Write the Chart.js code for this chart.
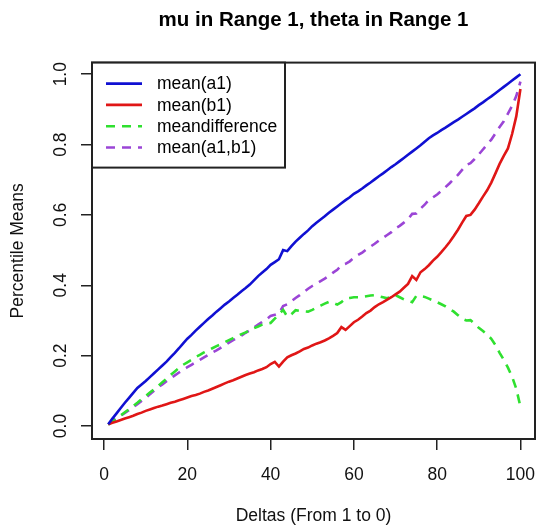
<!DOCTYPE html>
<html>
<head>
<meta charset="utf-8">
<script src="https://cdn.jsdelivr.net/npm/chart.js@4"></script>
<style>
  body { margin: 0; background: #fff; }
  #wrap { width: 536px; height: 527px; }
</style>
</head>
<body>
<div id="wrap"><canvas id="chart" width="536" height="527"></canvas></div>
<script>
// deltas 1..100
const deltas = Array.from({length: 100}, (_, i) => i + 1)
const xTicks = [0, 20, 40, 60, 80, 100]
const yTicks = [0, 0.2, 0.4, 0.6, 0.8, 1.0]

const meanA1 = [
  .005, .021, .036, .051, .066, .080, .094, .108, .118, .128,
  .139, .150, .161, .172, .183, .196, .208, .221, .235, .248,
  .259, .271, .282, .293, .304, .314, .325, .335, .345, .354,
  .364, .373, .383, .392, .402, .414, .426, .436, .446, .458,
  .466, .474, .500, .497, .511, .524, .535, .546, .556, .568,
  .578, .587, .596, .606, .615, .624, .633, .642, .650, .660,
  .667, .675, .684, .692, .701, .710, .718, .727, .736, .744,
  .753, .762, .771, .780, .789, .798, .808, .818, .826, .833,
  .841, .848, .856, .864, .871, .879, .887, .895, .903, .912,
  .920, .929, .937, .946, .955, .964, .973, .982, .991, 1.0
]
const meanB1 = [
  .005, .009, .013, .017, .021, .025, .029, .034, .038, .043,
  .047, .051, .055, .058, .062, .066, .069, .073, .077, .081,
  .085, .088, .092, .097, .101, .106, .111, .116, .121, .126,
  .130, .135, .140, .145, .149, .153, .158, .162, .167, .176,
  .182, .169, .183, .195, .201, .206, .212, .219, .223, .229,
  .234, .238, .243, .249, .256, .264, .281, .273, .284, .295,
  .302, .311, .321, .328, .338, .346, .352, .359, .366, .374,
  .382, .393, .404, .426, .415, .437, .446, .457, .470, .481,
  .494, .508, .523, .540, .558, .578, .597, .600, .615, .633,
  .652, .670, .692, .718, .745, .768, .789, .830, .880, .958
]
const meanDiff = [
  .004, .012, .021, .030, .039, .048, .057, .066, .076, .085,
  .095, .104, .114, .124, .134, .145, .155, .165, .174, .181,
  .188, .196, .202, .209, .215, .221, .227, .232, .238, .244,
  .250, .256, .261, .266, .272, .278, .283, .288, .291, .293,
  .305, .318, .330, .311, .318, .329, .327, .326, .325, .330,
  .336, .342, .348, .353, .350, .345, .352, .362, .364, .366,
  .366, .367, .369, .371, .372, .369, .366, .363, .368, .372,
  .366, .360, .356, .352, .370, .369, .367, .362, .357, .352,
  .346, .340, .332, .325, .315, .305, .300, .301, .290, .279,
  .270, .260, .248, .230, .208, .188, .166, .140, .106, .055
]
const meanA1B1 = [
  .005, .014, .022, .029, .037, .045, .054, .062, .071, .080,
  .090, .100, .110, .118, .127, .136, .144, .152, .160, .167,
  .174, .181, .188, .195, .202, .209, .215, .222, .229, .237,
  .244, .250, .257, .265, .272, .280, .288, .296, .303, .313,
  .316, .320, .341, .346, .355, .364, .372, .381, .390, .398,
  .405, .412, .419, .427, .436, .444, .457, .461, .468, .478,
  .486, .493, .502, .510, .518, .527, .535, .543, .551, .562,
  .569, .578, .588, .603, .604, .618, .629, .643, .650, .658,
  .668, .679, .690, .702, .714, .728, .742, .747, .759, .772,
  .786, .800, .814, .832, .850, .866, .888, .910, .938, .979
]

const seriesNames = ['mean(a1)', 'mean(b1)', 'meandifference', 'mean(a1,b1)']
const seriesColors = ['#1010d2', '#e01616', '#2fe02f', '#9b45d6']

const FONT = "'Liberation Sans', Arial, Helvetica, sans-serif"

function lineSet(i, values, dash) {
    return {
        label: seriesNames[i],
        data: values,
        borderColor: seriesColors[i],
        backgroundColor: seriesColors[i],
        borderWidth: 2.6,
        borderDash: dash,
        pointRadius: 0,
        tension: 0,
        fill: false
    }
}

// R style box + legend
const rBox = {
    id: 'rBox',
    afterDraw(chart) {
        const {ctx, chartArea: a} = chart
        ctx.save()
        ctx.strokeStyle = '#222'
        ctx.lineWidth = 2
        ctx.strokeRect(a.left, a.top, a.right - a.left, a.bottom - a.top)

        // legend
        const lx = a.left, ly = a.top, lw = 193, lh = 105
        ctx.fillStyle = '#fff'
        ctx.fillRect(lx, ly, lw, lh)
        ctx.strokeRect(lx, ly, lw, lh)
        ctx.font = '17.5px ' + FONT
        ctx.textBaseline = 'middle'
        chart.data.datasets.forEach((ds, i) => {
            const y = ly + 21 + i * 21.3
            ctx.strokeStyle = ds.borderColor
            ctx.lineWidth = 2.6
            ctx.setLineDash(ds.borderDash || [])
            ctx.beginPath()
            ctx.moveTo(lx + 14, y)
            ctx.lineTo(lx + 50, y)
            ctx.stroke()
            ctx.setLineDash([])
            ctx.fillStyle = '#000'
            ctx.fillText(ds.label, lx + 65, y + 1)
        })
        ctx.restore()
    }
}

const ctx = document.getElementById('chart').getContext('2d')
const chart = new Chart(ctx, {
    type: 'line',
    data: {
        labels: deltas,
        datasets: [
            lineSet(0, meanA1, []),
            lineSet(1, meanB1, []),
            lineSet(2, meanDiff, [9, 7]),
            lineSet(3, meanA1B1, [9, 7])
        ]
    },
    options: {
        responsive: false,
        animation: false,
        devicePixelRatio: 1,
        layout: { padding: { left: 0, right: 1, top: 0, bottom: 0 } },
        plugins: {
            legend: { display: false },
            tooltip: { enabled: false },
            title: {
                display: true,
                fullSize: false,
                text: 'mu in Range 1, theta in Range 1',
                color: '#000',
                font: { family: FONT, size: 20.5, weight: 'bold' },
                padding: { top: 8, bottom: 30 }
            }
        },
        scales: {
            x: {
                type: 'linear',
                min: -2.9,
                max: 103.5,
                afterBuildTicks: (s) => { s.ticks = xTicks.map(v => ({value: v})) },
                afterFit: (s) => { s.height = 88; s.paddingLeft = 0; s.paddingRight = 0 },
                ticks: {
                    color: '#111',
                    font: { family: FONT, size: 17.5 },
                    padding: 15,
                    maxRotation: 0,
                    autoSkip: false
                },
                grid: { drawOnChartArea: false, tickLength: 11, color: '#222', lineWidth: 1.5 },
                border: { display: false },
                title: {
                    display: true,
                    text: 'Deltas (From 1 to 0)',
                    color: '#111',
                    font: { family: FONT, size: 17.5 },
                    padding: { top: 0, bottom: 0 }
                }
            },
            y: {
                min: -0.037,
                max: 1.033,
                afterBuildTicks: (s) => { s.ticks = yTicks.map(v => ({value: v})) },
                afterFit: (s) => { s.width = 92; s.paddingTop = 0; s.paddingBottom = 0 },
                ticks: {
                    color: '#111',
                    font: { family: FONT, size: 17.5 },
                    padding: 8,
                    minRotation: 90,
                    maxRotation: 90,
                    crossAlign: 'center',
                    autoSkip: false,
                    callback: (v) => v.toFixed(1)
                },
                grid: { drawOnChartArea: false, tickLength: 11, color: '#222', lineWidth: 1.5 },
                border: { display: false },
                title: {
                    display: true,
                    text: 'Percentile Means',
                    color: '#111',
                    font: { family: FONT, size: 17.5 },
                    padding: { top: 8, bottom: 0 }
                }
            }
        }
    },
    plugins: [rBox]
})
</script>
</body>
</html>
